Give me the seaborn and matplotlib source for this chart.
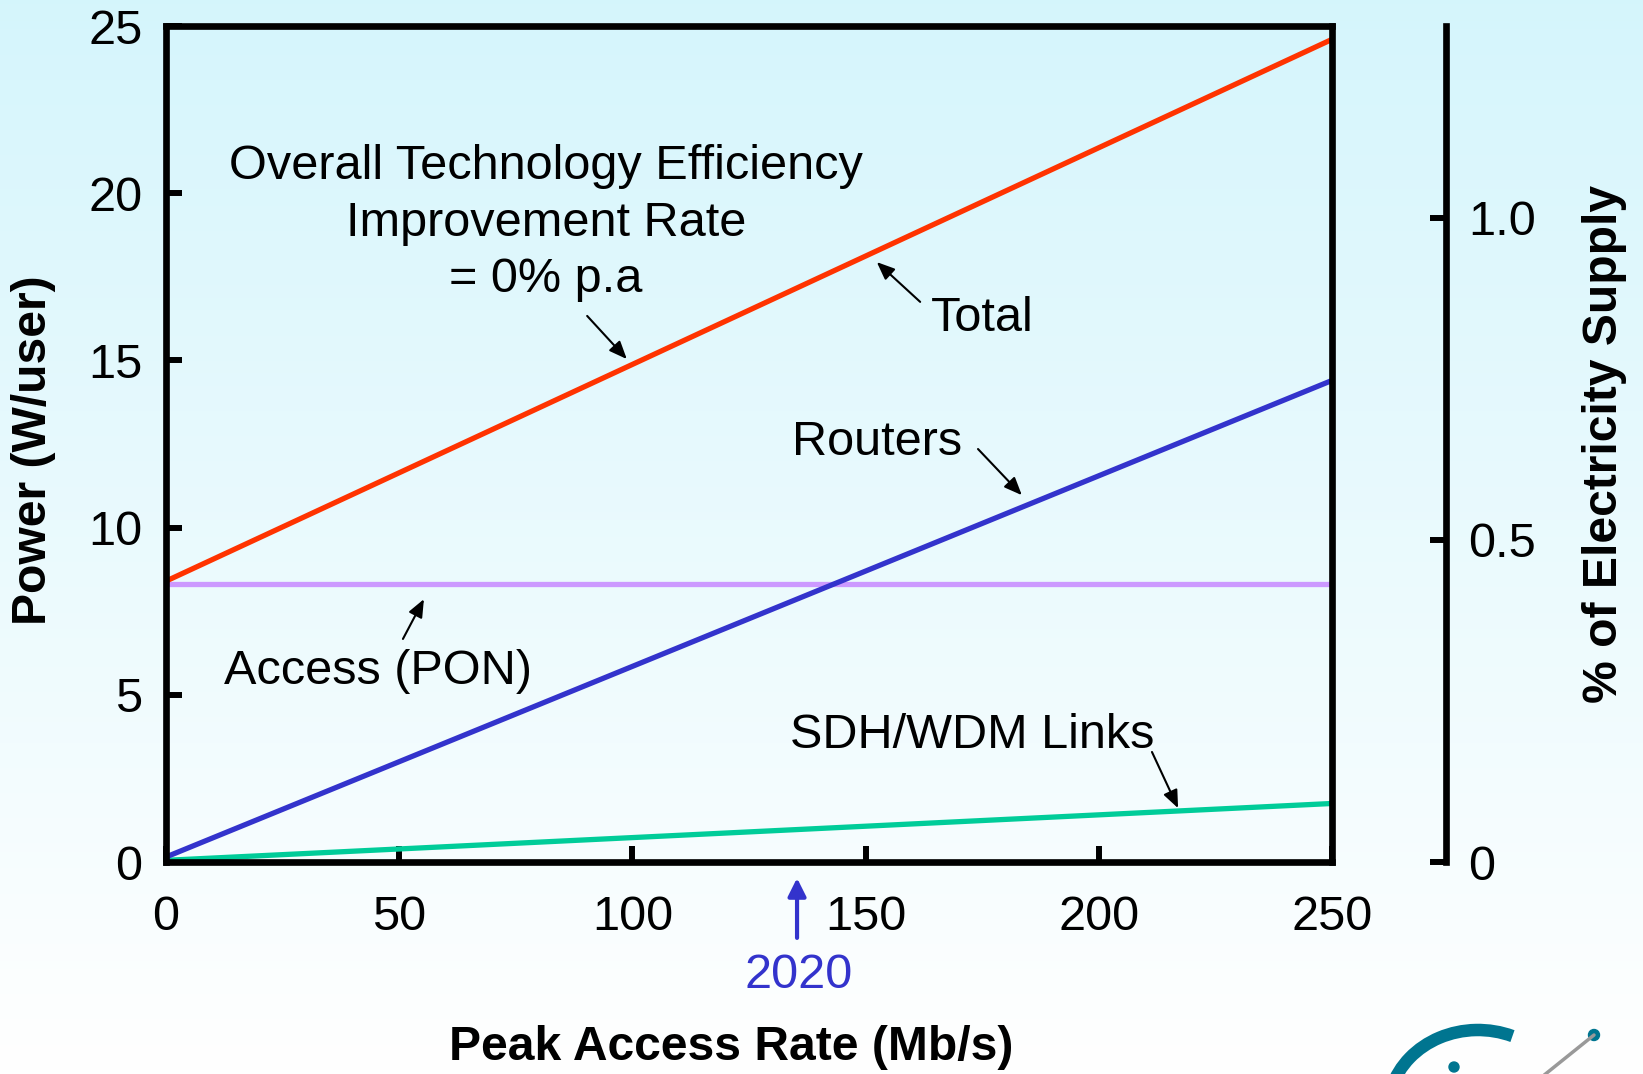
import numpy as np
import pandas as pd
import matplotlib
matplotlib.use("Agg")
import matplotlib.pyplot as plt
import seaborn as sns
from matplotlib.patches import Arc, Circle

# ---- data ----
peak_rate = [0, 250]                 # Mb/s
total_w = [8.4, 24.6]                # W/user
routers_w = [0.15, 14.4]
access_w = [8.3, 8.3]
links_w = [0.05, 1.75]
x_ticks = [0, 50, 100, 150, 200, 250]
y_ticks = [0, 5, 10, 15, 20, 25]
pct_ticks = [0, 0.5, 1.0]
pct_labels = ["0", "0.5", "1.0"]
pct_max = 1.298                      # right axis top (matches 25 W/user)
year_marker_x = 135.3
year_marker_label = "2020"

C_TOTAL = "#ff3300"
C_ROUT = "#3333cc"
C_ACC = "#cc99ff"
C_LINK = "#00cc99"

sns.set_theme(style="white")
plt.rcParams["font.family"] = ["Liberation Sans", "DejaVu Sans"]
plt.rcParams["text.color"] = "black"
plt.rcParams["axes.labelcolor"] = "black"
plt.rcParams["xtick.color"] = "black"
plt.rcParams["ytick.color"] = "black"

W, H = 1643, 1074
fig = plt.figure(figsize=(W / 100, H / 100), dpi=100)

# background gradient
bg = fig.add_axes([0, 0, 1, 1], zorder=-10)
top = np.array([0.835, 0.962, 0.988])
bot = np.array([1.0, 1.0, 1.0])
t = np.linspace(0, 1, 256)[:, None]
grad = top[None, :] * (1 - t) + bot[None, :] * t
bg.imshow(grad[:, None, :].repeat(2, axis=1), aspect="auto", extent=[0, W, H, 0])
bg.set_xlim(0, W)
bg.set_ylim(H, 0)
bg.axis("off")

# logo fragment (bottom-right)
logo = "#007590"
bg.add_patch(Arc((1478, 1110), 180, 160, theta1=195, theta2=295, color=logo, lw=9))
bg.add_patch(Circle((1454, 1067), 5, color=logo))
bg.plot([1543, 1594], [1076, 1035], color="#999999", lw=2.5)
bg.add_patch(Circle((1594, 1035), 5.5, color=logo))

ax = fig.add_axes([166 / W, 1 - 862 / H, (1332 - 166) / W, (862 - 26) / H])
ax.set_facecolor("none")

df = pd.DataFrame({"rate": peak_rate, "Total": total_w, "Routers": routers_w,
                   "Access": access_w, "Links": links_w})
lw = 3.8
sns.lineplot(data=df, x="rate", y="Access", ax=ax, color=C_ACC, lw=lw)
sns.lineplot(data=df, x="rate", y="Links", ax=ax, color=C_LINK, lw=lw)
sns.lineplot(data=df, x="rate", y="Routers", ax=ax, color=C_ROUT, lw=lw)
sns.lineplot(data=df, x="rate", y="Total", ax=ax, color=C_TOTAL, lw=lw)

ax.set_xlim(0, 250)
ax.set_ylim(0, 25)
ax.set_xticks(x_ticks)
ax.set_yticks(y_ticks)
ax.set_xticklabels([str(v) for v in x_ticks])
ax.set_yticklabels([str(v) for v in y_ticks])
for s in ax.spines.values():
    s.set_linewidth(4.8)
    s.set_color("black")
    s.set_visible(True)
ax.tick_params(axis="x", direction="in", length=11.5, width=4.3, pad=24,
               labelsize=35, colors="black", bottom=True, top=False)
ax.tick_params(axis="y", direction="in", length=11.5, width=4.3, pad=17,
               labelsize=35, colors="black", left=True, right=False)

ax.set_xlabel("Peak Access Rate (Mb/s)", fontsize=34.6, fontweight="bold")
ax.xaxis.set_label_coords(0.4846, -0.2213)
ax.xaxis.label.set_va("center")
ax.set_ylabel("Power (W/user)", fontsize=34.6, fontweight="bold")
ax.yaxis.set_label_coords(-0.114, 0.493)
ax.yaxis.label.set_va("center")

# right axis
ax2 = ax.twinx()
ax2.set_ylim(0, pct_max)
ax2.set_yticks(pct_ticks)
ax2.set_yticklabels(pct_labels)
for k in ["top", "bottom", "left"]:
    ax2.spines[k].set_visible(False)
ax2.spines["right"].set_position(("axes", (1446 - 166) / 1166))
ax2.spines["right"].set_linewidth(4.8)
ax2.spines["right"].set_color("black")
ax2.tick_params(axis="y", direction="in", length=11.5, width=4.3, pad=16,
                labelsize=35, colors="black", right=True, left=False)
ax2.set_ylabel("% of Electricity Supply", fontsize=34.6, fontweight="bold")
ax2.yaxis.set_label_coords(1.2333, 0.5)
ax2.yaxis.label.set_va("center")
ax2.yaxis.label.set_rotation(90)

# annotations
fs = 35
ax.text(81.5, 19.1, "Overall Technology Efficiency\nImprovement Rate\n= 0% p.a",
        ha="center", va="center", fontsize=fs, linespacing=1.33)
ax.text(175.0, 16.26, "Total", ha="center", va="center", fontsize=fs)
ax.text(152.4, 12.55, "Routers", ha="center", va="center", fontsize=fs)
ax.text(45.5, 5.7, "Access (PON)", ha="center", va="center", fontsize=fs)
ax.text(172.8, 3.79, "SDH/WDM Links", ha="center", va="center", fontsize=fs)

arrow = dict(arrowstyle="-|>,head_length=0.6,head_width=0.25", color="black",
             lw=1.5, mutation_scale=18, shrinkA=0, shrinkB=0)
for tail, head in [((90.3, 16.33), (98.8, 15.04)),
                   ((161.7, 16.75), (152.4, 17.94)),
                   ((174.1, 12.35), (183.5, 10.97)),
                   ((50.8, 6.67), (55.3, 7.86)),
                   ((211.4, 3.29), (217.0, 1.61))]:
    ax.annotate("", xy=head, xytext=tail, arrowprops=arrow)

ax.annotate("", xy=(year_marker_x, -0.48), xytext=(year_marker_x, -2.27),
            arrowprops=dict(arrowstyle="-|>,head_length=0.6,head_width=0.3",
                            color=C_ROUT, lw=3, mutation_scale=18,
                            shrinkA=0, shrinkB=0),
            annotation_clip=False)
ax.text(year_marker_x + 0.4, -3.39, year_marker_label, ha="center", va="center",
        fontsize=fs, color=C_ROUT, clip_on=False)

fig.savefig("out.png", dpi=100)
